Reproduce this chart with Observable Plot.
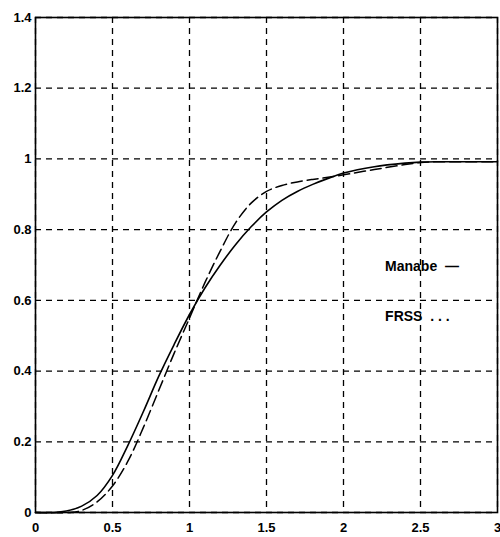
<!DOCTYPE html>
<html>
<head>
<meta charset="utf-8">
<script src="https://cdn.jsdelivr.net/npm/d3@7"></script>
<script src="https://cdn.jsdelivr.net/npm/@observablehq/plot@0.6"></script>
<style>
  html, body { margin: 0; padding: 0; background: #fff; }
  #chart svg { display: block; }
</style>
</head>
<body>
<div id="chart"></div>
<script>
// Solid curve (series 1)
const solidX = [0, 0.12, 0.2, 0.3, 0.4, 0.5, 0.6, 0.7, 0.8, 0.9, 1.0, 1.1, 1.2, 1.3, 1.4, 1.5, 1.6, 1.7, 1.8, 1.9, 2.0, 2.2, 2.4, 2.5, 2.6, 2.8, 3.0];
const solidY = [0, 0, 0.004, 0.018, 0.048, 0.105, 0.19, 0.285, 0.385, 0.475, 0.56, 0.635, 0.70, 0.758, 0.808, 0.85, 0.883, 0.908, 0.928, 0.945, 0.96, 0.978, 0.988, 0.991, 0.992, 0.992, 0.992];
// Dashed curve (series 2)
const dashX = [0, 0.22, 0.3, 0.4, 0.5, 0.6, 0.7, 0.8, 0.9, 1.0, 1.1, 1.2, 1.3, 1.4, 1.5, 1.6, 1.7, 1.8, 1.9, 2.0, 2.2, 2.4, 2.5, 2.6, 2.8, 3.0];
const dashY = [0, 0, 0.006, 0.03, 0.075, 0.145, 0.24, 0.345, 0.45, 0.55, 0.65, 0.74, 0.82, 0.875, 0.908, 0.925, 0.935, 0.942, 0.948, 0.955, 0.97, 0.984, 0.99, 0.992, 0.992, 0.992];
// Ticks
const xTicks = [0, 0.5, 1, 1.5, 2, 2.5, 3];
const yTicks = [0, 0.2, 0.4, 0.6, 0.8, 1.0, 1.2, 1.4];
const yTickLabels = ["0", "0.2", "0.4", "0.6", "0.8", "1", "1.2", "1.4"];
// Legend
const legendLabels = ["Manabe  \u2014", "FRSS  . . ."];
const legendY = [0.695, 0.555];

const solid = solidX.map((x, i) => ({x, y: solidY[i]}));
const dashed = dashX.map((x, i) => ({x, y: dashY[i]}));
const legend = legendLabels.map((t, i) => ({t, y: legendY[i]}));

const font = "'Liberation Sans Narrow', 'Arial Narrow', 'Liberation Sans', sans-serif";

const chart = Plot.plot({
  width: 500,
  height: 537,
  marginLeft: 35,
  marginRight: 3,
  marginTop: 17,
  marginBottom: 25,
  style: {fontFamily: font, fontSize: "13px", fontWeight: "bold", color: "#000", background: "#fff"},
  x: {domain: [0, 3], ticks: xTicks, tickSize: 0, tickPadding: 10, tickFormat: d => String(d), label: null},
  y: {domain: [0, 1.4], ticks: yTicks, tickSize: 0, tickPadding: 4, tickFormat: d => yTickLabels[yTicks.findIndex(v => Math.abs(v - d) < 1e-9)], label: null},
  marks: [
    Plot.gridX(xTicks, {stroke: "#000", strokeOpacity: 1, strokeWidth: 1.3, strokeDasharray: "6,5"}),
    Plot.gridY(yTicks, {stroke: "#000", strokeOpacity: 1, strokeWidth: 1.3, strokeDasharray: "6,5"}),
    Plot.line(solid, {x: "x", y: "y", stroke: "#000", strokeWidth: 1.6, curve: "catmull-rom"}),
    Plot.line(dashed, {x: "x", y: "y", stroke: "#000", strokeWidth: 1.5, strokeDasharray: "11,5", curve: "catmull-rom"}),
    Plot.text(legend, {x: 2.27, y: "y", text: "t", textAnchor: "start", fontSize: 14, fontWeight: "bold", fill: "#000"}),
    Plot.frame({stroke: "#000", strokeWidth: 1.6})
  ]
});
document.getElementById("chart").appendChild(chart);
</script>
</body>
</html>
